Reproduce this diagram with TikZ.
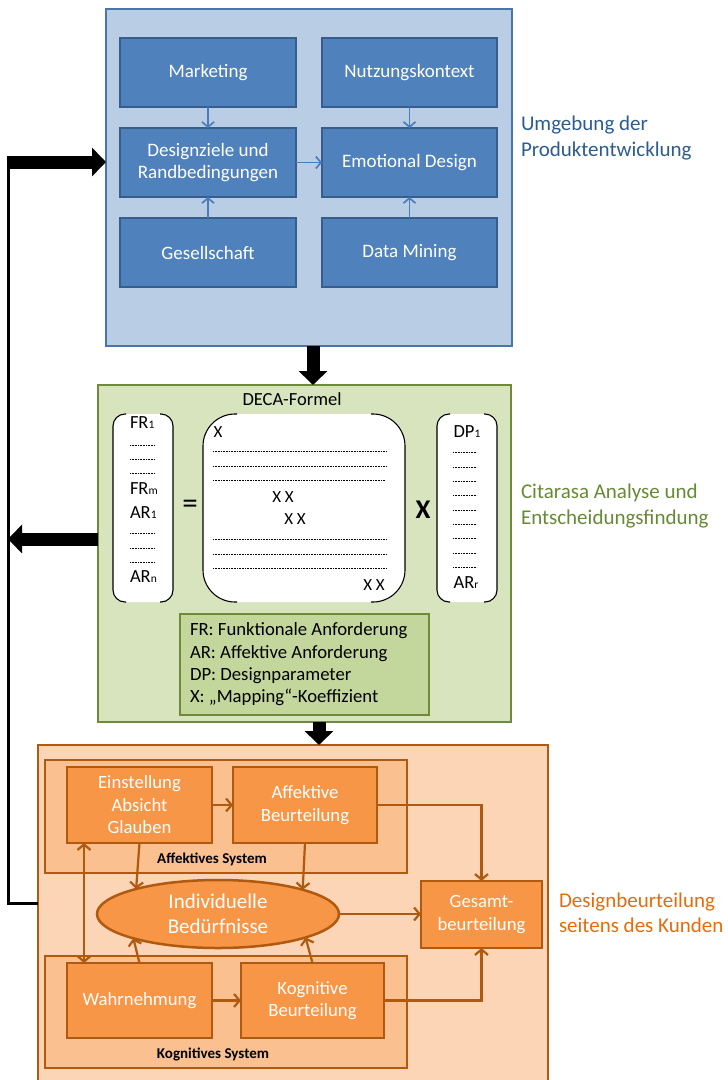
\documentclass[tikz,border=0pt]{standalone}
\usepackage{fontspec}
\setmainfont{Carlito}
\usetikzlibrary{arrows.meta,shapes.geometric}
\definecolor{bluebg}{HTML}{B9CDE5}
\definecolor{blueborder}{HTML}{4A74AC}
\definecolor{bnode}{HTML}{4F81BD}
\definecolor{bnodeborder}{HTML}{385D8A}
\definecolor{barrow}{HTML}{4A7EBB}
\definecolor{bluelabel}{HTML}{2C5C8F}
\definecolor{gbg}{HTML}{D7E4BD}
\definecolor{gborder}{HTML}{6E8B3A}
\definecolor{glegend}{HTML}{C3D69B}
\definecolor{greenlabel}{HTML}{668A33}
\definecolor{obg}{HTML}{FBD5B5}
\definecolor{osys}{HTML}{FAC090}
\definecolor{onode}{HTML}{F79646}
\definecolor{oborder}{HTML}{B05A10}
\definecolor{orangelabel}{HTML}{E46C0A}
\newcommand\fsz[2]{\fontsize{#1}{#2}\selectfont}
\newcommand\idx[1]{{\fontsize{11.5}{11.5}\selectfont #1}}
\begin{document}
\begin{tikzpicture}[x=1pt,y=-1pt,
  every node/.style={inner sep=0pt,outer sep=0pt},
  envbox/.style={draw=blueborder,fill=bluebg,line width=2.5pt,anchor=north west},
  bbox/.style={draw=bnodeborder,fill=bnode,line width=2.5pt,text=white,font=\fsz{19}{22.5},align=center,minimum width=176pt,minimum height=69pt,anchor=north west},
  barr/.style={draw=barrow,line width=1.7pt,-{Straight Barb[length=5pt,width=12pt]}},
  decabox/.style={draw=gborder,fill=gbg,line width=2.5pt,anchor=north west},
  legbox/.style={draw=gborder,fill=glegend,line width=2.5pt,anchor=north west},
  custbox/.style={draw=oborder,fill=obg,line width=2.5pt,anchor=north west},
  sysbox/.style={draw=oborder,fill=osys,line width=2.5pt,anchor=north west},
  onodestyle/.style={draw=oborder,fill=onode,line width=2.5pt,text=white,font=\fsz{18.7}{22.5},align=center,anchor=north west},
  oarr/.style={draw=oborder,line width=2.2pt,-{Straight Barb[length=5.5pt,width=13pt]}},
  oarrboth/.style={draw=oborder,line width=2.2pt,{Straight Barb[length=5.5pt,width=13pt]}-{Straight Barb[length=5.5pt,width=13pt]}},
  bigarrow/.style={draw=black,line width=13pt,-{Triangle[length=14pt,width=28pt]}},
  thinline/.style={draw=black,line width=3pt,line join=miter},
  vec/.style={fill=white,draw=none,anchor=north west,minimum height=188pt},
  brk/.style={draw=black,line width=1.1pt},
  dotrow/.style={draw=black,line width=0.7pt,dash pattern=on 0.7pt off 0.9pt},
  vtxt/.style={font=\fsz{18.5}{20}},
  mtxt/.style={font=\fsz{17}{20}},
  rlabel/.style={anchor=west,align=left,font=\fsz{21}{26}}
]
\useasboundingbox (0,0) rectangle (728,1080);

% ---------------- top: environment ----------------
\node[envbox,minimum width=406pt,minimum height=337pt] (env) at (106,9) {};
\node[bbox] (mk) at (120,38) {Marketing};
\node[bbox,minimum width=175pt] (nk) at (322,38) {Nutzungskontext};
\node[bbox] (dz) at (120,128) {Designziele und\\Randbedingungen};
\node[bbox,minimum width=175pt] (ed) at (322,128) {Emotional Design};
\node[bbox] (gs) at (120,218) {Gesellschaft};
\node[bbox,minimum width=175pt] (dm) at (322,218) {Data Mining};
\draw[barr] (mk.south) -- (dz.north);
\draw[barr] (nk.south) -- (ed.north);
\draw[barr] (gs.north) -- (dz.south);
\draw[barr] (dm.north) -- (ed.south);
\draw[barr] (dz.east) -- (ed.west);
\node[rlabel,text=bluelabel] (lenv) at (521,138) {Umgebung der\\Produktentwicklung};

% ---------------- middle: DECA ----------------
\node[decabox,minimum width=413pt,minimum height=337pt] (deca) at (98,385) {};
\node[font=\fsz{18.5}{22}] (dtitle) at (292,399) {DECA-Formel};

\node[vec,minimum width=60pt,rounded corners=12pt] (fr) at (113,414) {};
\node[vec,minimum width=202pt,rounded corners=30pt] (mx) at (203,414) {};
\node[vec,minimum width=60pt,rounded corners=12pt] (dp) at (437,414) {};

\draw[brk,rounded corners=12pt] ([xshift=13pt]fr.north west) -- (fr.north west) -- (fr.south west) -- ([xshift=13pt]fr.south west);
\draw[brk,rounded corners=12pt] ([xshift=-13pt]fr.north east) -- (fr.north east) -- (fr.south east) -- ([xshift=-13pt]fr.south east);
\draw[brk,rounded corners=32pt] ([xshift=34pt]mx.north west) -- (mx.north west) -- (mx.south west) -- ([xshift=34pt]mx.south west);
\draw[brk,rounded corners=32pt] ([xshift=-34pt]mx.north east) -- (mx.north east) -- (mx.south east) -- ([xshift=-34pt]mx.south east);
\draw[brk,rounded corners=12pt] ([xshift=13pt]dp.north west) -- (dp.north west) -- (dp.south west) -- ([xshift=13pt]dp.south west);
\draw[brk,rounded corners=12pt] ([xshift=-13pt]dp.north east) -- (dp.north east) -- (dp.south east) -- ([xshift=-13pt]dp.south east);

% left vector
\node[vtxt,anchor=west] (fr1) at (130,423) {FR\idx{1}};
\node[vtxt,anchor=west] (frm) at (130,489) {FR\idx{m}};
\node[vtxt,anchor=west] (ar1) at (130,513) {AR\idx{1}};
\node[vtxt,anchor=west] (arn) at (130,577) {AR\idx{n}};
\foreach \yy in {445,459,473,533,548,562} \draw[dotrow] (130,\yy) -- (155,\yy);

\node[font=\fsz{31}{31}] (eq) at (190,507) {=};

% matrix
\node[mtxt] (x1) at (218,432) {X};
\node[mtxt] (x2) at (283,497) {X X};
\node[mtxt] (x3) at (295,519) {X X};
\node[mtxt] (x4) at (374,585) {X X};
\foreach \yy in {451,466,539,554,568} \draw[dotrow] (213,\yy) -- (387,\yy);
\draw[dotrow] (213,480) -- (385,480);

\node[font=\fsz{27}{27}\bfseries] (times) at (423,510) {X};

% right vector
\node[vtxt] (dp1) at (467,432) {DP\idx{1}};
\node[vtxt] (arr) at (466,583) {AR\idx{r}};
\foreach \yy in {452,467,481,495,510,524,538,553,567} \draw[dotrow] (453,\yy) -- (477,\yy);

% legend
\node[legbox,minimum width=249pt,minimum height=101pt] (leg) at (180,614) {};
\node[anchor=west,align=left,font=\fsz{18.7}{22.3}] (legtxt) at (190,664.5)
  {FR: Funktionale Anforderung\\AR: Affektive Anforderung\\DP: Designparameter\\X: „Mapping“-Koeffizient};

\node[rlabel,text=greenlabel] (ldeca) at (521,506) {Citarasa Analyse und\\Entscheidungsfindung};

% ---------------- bottom: customer ----------------
\node[custbox,minimum width=510pt,minimum height=370pt] (cust) at (38,745) {};
\node[sysbox,minimum width=362pt,minimum height=113pt] (asys) at (45,760) {};
\node[sysbox,minimum width=362pt,minimum height=112pt] (ksys) at (45,956) {};
\node[font=\fsz{15}{18}\bfseries] (asyslbl) at (212,859) {Affektives System};
\node[font=\fsz{15}{18}\bfseries] (ksyslbl) at (213,1054) {Kognitives System};

\node[onodestyle,minimum width=145pt,minimum height=76pt] (ein) at (67,767) {Einstellung\\Absicht\\Glauben};
\node[onodestyle,minimum width=144pt,minimum height=76pt] (aff) at (233,767) {Affektive\\Beurteilung};
\node[onodestyle,minimum width=145pt,minimum height=75pt] (wahr) at (67,963) {Wahrnehmung};
\node[onodestyle,minimum width=143pt,minimum height=75pt] (kog) at (241,963) {Kognitive\\Beurteilung};
\node[onodestyle,minimum width=121pt,minimum height=67pt] (ges) at (421,881) {Gesamt-\\beurteilung};
\node[ellipse,draw=oborder,fill=onode,line width=2.5pt,text=white,font=\fsz{21}{25},align=center,
      minimum width=242pt,minimum height=68pt] (ell) at (218,914) {Individuelle\\Bedürfnisse};

\coordinate (dblx) at (84,0);
\draw[oarr] (ein.east) -- (aff.west);
\draw[oarr] (wahr.east) -- (kog.west);
\draw[oarr] (aff.east) -| (ges.north);
\draw[oarr] (kog.east) -| (ges.south);
\draw[oarr] (ell.east) -- (ges.west |- ell.east);
\draw[oarr] (ein.south) -- (ell.163);
\draw[oarr] (aff.south) -- (ell.16);
\draw[oarr] (wahr.north) -- (ell.196);
\draw[oarr] (kog.north) -- (ell.345);
\draw[oarrboth] (ein.south -| dblx) -- (wahr.north -| dblx);

\node[rlabel,text=orangelabel,font=\fsz{21}{25}] (lcust) at (559,912.5) {Designbeurteilung\\seitens des Kunden};

% ---------------- black connectors ----------------
\coordinate (c1) at (8,903);
\coordinate (c2) at (8,162);
\coordinate (c3) at (8,539);
\coordinate (a1) at (313,0);
\coordinate (a2) at (319,0);
\draw[thinline] (cust.west |- c1) -- (c1) -- (c2);
\draw[bigarrow] ([xshift=-1.5pt]c2) -- (env.west |- c2);
\draw[bigarrow] (deca.west |- c3) -- (c3);
\draw[bigarrow] (env.south -| a1) -- (deca.north -| a1);
\draw[bigarrow] (deca.south -| a2) -- (cust.north -| a2);
\end{tikzpicture}
\end{document}
